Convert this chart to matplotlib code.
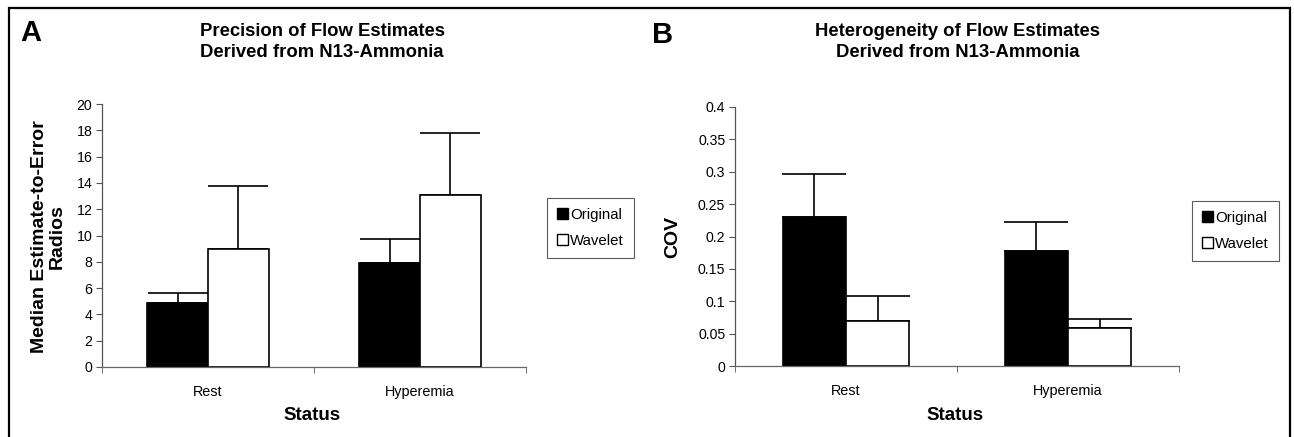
import matplotlib
matplotlib.use("Agg")
import matplotlib.pyplot as plt
from matplotlib.patches import Rectangle, Patch
import numpy as np

plt.rcParams['font.family'] = ['Liberation Sans', 'DejaVu Sans']

# data
categories = ["Rest", "Hyperemia"]
series = ["Original", "Wavelet"]

ratio_original = [4.88, 7.88]
ratio_original_err = [0.77, 1.85]
ratio_wavelet = [8.98, 13.05]
ratio_wavelet_err = [4.77, 4.78]

cov_original = [0.230, 0.178]
cov_original_err = [0.067, 0.045]
cov_wavelet = [0.069, 0.058]
cov_wavelet_err = [0.039, 0.014]

W, H = 1294, 437
fig = plt.figure(figsize=(W / 100, H / 100), dpi=100)


def px_box(x0, x1, ytop, ybot):
    return [x0 / W, 1 - ybot / H, (x1 - x0) / W, (ybot - ytop) / H]


def draw_panel(ax, orig, orig_err, wav, wav_err, ymax, ystep, fmt):
    x = np.arange(len(categories))
    width = 1 / 3.5
    ax.bar(x - width / 2, orig, width, color="black", edgecolor="black", linewidth=1.2, zorder=2)
    ax.bar(x + width / 2, wav, width, color="white", edgecolor="black", linewidth=1.2, zorder=2)

    # caps roughly as wide as the bars
    bar_px = ax.get_position().width * W / 2 * width
    cap = bar_px * 72 / 100 / 2
    ax.errorbar(x - width / 2, orig, yerr=[np.zeros(len(orig)), orig_err], fmt="none",
                ecolor="black", elinewidth=1.2, capsize=cap, capthick=1.2, zorder=1)
    ax.errorbar(x + width / 2, wav, yerr=[np.zeros(len(wav)), wav_err], fmt="none",
                ecolor="black", elinewidth=1.2, capsize=cap, capthick=1.2, zorder=1)

    ax.set_xlim(-0.5, len(categories) - 0.5)
    ax.set_ylim(0, ymax)
    ticks = np.arange(0, ymax + ystep / 2, ystep)
    ax.set_yticks(ticks)
    ax.set_yticklabels([fmt(v) for v in ticks])
    ax.set_xticks(x)
    ax.set_xticklabels(categories)
    ax.set_xticks(np.arange(-0.5, len(categories), 1), minor=True)
    ax.tick_params(axis="x", which="major", length=0, pad=13, labelsize=10.4)
    ax.tick_params(axis="x", which="minor", length=4, direction="out", color="#555")
    ax.tick_params(axis="y", length=4, direction="out", color="#555", labelsize=10.2, pad=3)
    for s in ["top", "right"]:
        ax.spines[s].set_visible(False)
    ax.spines["left"].set_color("#555")
    ax.spines["bottom"].set_color("#666")
    ax.spines["left"].set_linewidth(0.9)
    ax.spines["bottom"].set_linewidth(0.9)


axA = fig.add_axes(px_box(102, 526, 104, 367))
draw_panel(axA, ratio_original, ratio_original_err, ratio_wavelet, ratio_wavelet_err,
           20, 2, lambda v: f"{v:g}")

axB = fig.add_axes(px_box(735, 1179, 107, 366))
draw_panel(axB, cov_original, cov_original_err, cov_wavelet, cov_wavelet_err,
           0.4, 0.05, lambda v: "0" if v == 0 else f"{v:.2f}".rstrip("0"))


def ftext(x, y, s, **kw):
    fig.text(x / W, 1 - y / H, s, **kw)


ftext(31, 33, "A", fontsize=21, fontweight="bold", ha="center", va="center")
ftext(663, 35, "B", fontsize=21, fontweight="bold", ha="center", va="center")

ftext(322, 42, "Precision of Flow Estimates\nDerived from N13-Ammonia",
      fontsize=13.3, fontweight="bold", ha="center", va="center", linespacing=1.35)
ftext(958, 42, "Heterogeneity of Flow Estimates\nDerived from N13-Ammonia",
      fontsize=13.3, fontweight="bold", ha="center", va="center", linespacing=1.35)

ftext(48, 237, "Median Estimate-to-Error\nRadios", fontsize=14, fontweight="bold",
      ha="center", va="center", rotation=90, linespacing=1.05)
ftext(673, 237, "COV", fontsize=14, fontweight="bold", ha="center", va="center", rotation=90)

ftext(312, 415, "Status", fontsize=13.5, fontweight="bold", ha="center", va="center")
ftext(955, 415, "Status", fontsize=13.5, fontweight="bold", ha="center", va="center")

handles = [Patch(facecolor="black", edgecolor="black"),
           Patch(facecolor="white", edgecolor="black")]
for lx, ly in [(547, 198), (1192, 201)]:
    leg = fig.legend(handles, series, loc="upper left",
                     bbox_to_anchor=(lx / W, 1 - ly / H), fontsize=10.8,
                     frameon=True, fancybox=False, edgecolor="#333",
                     handlelength=0.75, handleheight=0.75, handletextpad=0.15,
                     borderpad=0.65, labelspacing=0.8, borderaxespad=0)
    leg.get_frame().set_linewidth(0.8)

# outer frame
fig.patches.append(Rectangle((9 / W, -0.01), (1290 - 9) / W, 1.01 - 8 / H,
                             transform=fig.transFigure, fill=False,
                             edgecolor="black", linewidth=1.6))

fig.savefig("out.png", dpi=100, facecolor="white")
